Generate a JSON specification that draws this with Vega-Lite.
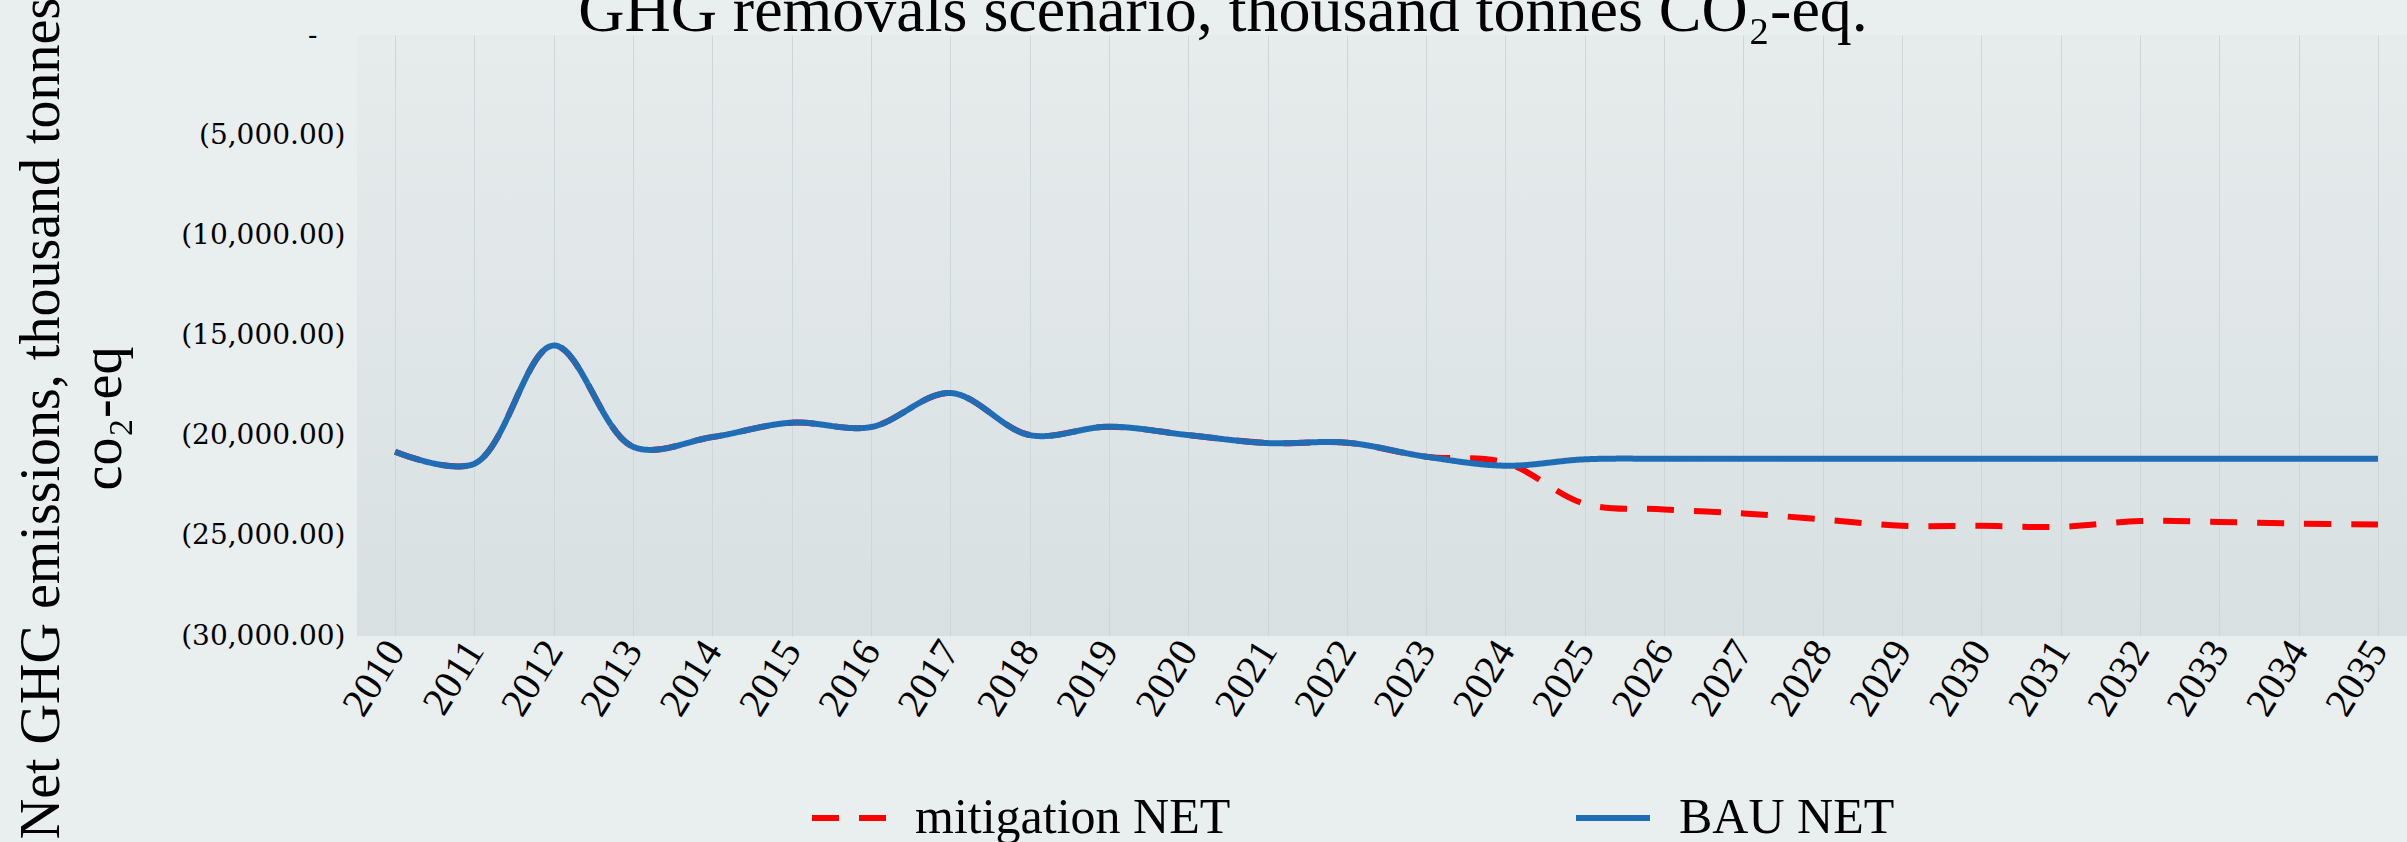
{
  "$schema": "https://vega.github.io/schema/vega-lite/v6.json",
  "autosize": {"type": "none"},
  "width": 2050,
  "height": 601,
  "padding": {"left": 357, "top": 35, "right": 0, "bottom": 206},
  "background": "#e9eeee",
  "title": {
    "text": "GHG removals scenario, thousand tonnes CO₂-eq.",
    "font": "Liberation Serif",
    "fontSize": 64,
    "fontWeight": "normal",
    "color": "#000000",
    "anchor": "middle",
    "frame": "group",
    "dx": -159,
    "baseline": "alphabetic",
    "offset": -98
  },
  "config": {
    "view": {
      "stroke": null,
      "fill": {"gradient": "linear", "x1": 0, "y1": 0, "x2": 0, "y2": 1,
        "stops": [{"offset": 0, "color": "#e6ecec"}, {"offset": 1, "color": "#d9e0e2"}]}
    },
    "legend": {
      "title": null,
      "orient": "none",
      "direction": "horizontal",
      "legendX": 452,
      "legendY": 743,
      "padding": 0,
      "symbolType": "stroke",
      "symbolSize": 5476,
      "symbolStrokeWidth": 6,
      "labelFont": "Liberation Serif",
      "labelFontSize": 50,
      "labelColor": "#000000",
      "labelOffset": 26,
      "labelLimit": 0,
      "columnPadding": 333
    }
  },
  "data": {
    "values": [
      {"year": 2010, "series": "mitigation NET", "value": -20800},
      {"year": 2011, "series": "mitigation NET", "value": -21400},
      {"year": 2012, "series": "mitigation NET", "value": -15500},
      {"year": 2013, "series": "mitigation NET", "value": -20550},
      {"year": 2014, "series": "mitigation NET", "value": -20070},
      {"year": 2015, "series": "mitigation NET", "value": -19350},
      {"year": 2016, "series": "mitigation NET", "value": -19570},
      {"year": 2017, "series": "mitigation NET", "value": -17870},
      {"year": 2018, "series": "mitigation NET", "value": -19970},
      {"year": 2019, "series": "mitigation NET", "value": -19550},
      {"year": 2020, "series": "mitigation NET", "value": -19970},
      {"year": 2021, "series": "mitigation NET", "value": -20370},
      {"year": 2022, "series": "mitigation NET", "value": -20350},
      {"year": 2023, "series": "mitigation NET", "value": -21050},
      {"year": 2024, "series": "mitigation NET", "value": -21350},
      {"year": 2025, "series": "mitigation NET", "value": -23400},
      {"year": 2026, "series": "mitigation NET", "value": -23680},
      {"year": 2027, "series": "mitigation NET", "value": -23880},
      {"year": 2028, "series": "mitigation NET", "value": -24180},
      {"year": 2029, "series": "mitigation NET", "value": -24500},
      {"year": 2030, "series": "mitigation NET", "value": -24500},
      {"year": 2031, "series": "mitigation NET", "value": -24550},
      {"year": 2032, "series": "mitigation NET", "value": -24260},
      {"year": 2033, "series": "mitigation NET", "value": -24310},
      {"year": 2034, "series": "mitigation NET", "value": -24390},
      {"year": 2035, "series": "mitigation NET", "value": -24430},
      {"year": 2010, "series": "BAU NET", "value": -20800},
      {"year": 2011, "series": "BAU NET", "value": -21400},
      {"year": 2012, "series": "BAU NET", "value": -15500},
      {"year": 2013, "series": "BAU NET", "value": -20550},
      {"year": 2014, "series": "BAU NET", "value": -20070},
      {"year": 2015, "series": "BAU NET", "value": -19350},
      {"year": 2016, "series": "BAU NET", "value": -19570},
      {"year": 2017, "series": "BAU NET", "value": -17870},
      {"year": 2018, "series": "BAU NET", "value": -19970},
      {"year": 2019, "series": "BAU NET", "value": -19550},
      {"year": 2020, "series": "BAU NET", "value": -19970},
      {"year": 2021, "series": "BAU NET", "value": -20370},
      {"year": 2022, "series": "BAU NET", "value": -20350},
      {"year": 2023, "series": "BAU NET", "value": -21050},
      {"year": 2024, "series": "BAU NET", "value": -21500},
      {"year": 2025, "series": "BAU NET", "value": -21180},
      {"year": 2026, "series": "BAU NET", "value": -21150},
      {"year": 2027, "series": "BAU NET", "value": -21150},
      {"year": 2028, "series": "BAU NET", "value": -21150},
      {"year": 2029, "series": "BAU NET", "value": -21150},
      {"year": 2030, "series": "BAU NET", "value": -21150},
      {"year": 2031, "series": "BAU NET", "value": -21150},
      {"year": 2032, "series": "BAU NET", "value": -21150},
      {"year": 2033, "series": "BAU NET", "value": -21150},
      {"year": 2034, "series": "BAU NET", "value": -21150},
      {"year": 2035, "series": "BAU NET", "value": -21150}
    ]
  },
  "mark": {"type": "line", "interpolate": "catmull-rom", "strokeWidth": 6, "strokeCap": "butt"},
  "encoding": {
    "x": {
      "field": "year", "type": "quantitative",
      "scale": {"domain": [2009.52, 2035.366], "nice": false, "zero": false},
      "axis": {
        "values": [2010,2011,2012,2013,2014,2015,2016,2017,2018,2019,2020,2021,2022,2023,2024,2025,2026,2027,2028,2029,2030,2031,2032,2033,2034,2035],
        "format": "d",
        "title": null,
        "labelAngle": -58,
        "labelAlign": "right",
        "labelBaseline": "middle",
        "labelFont": "Liberation Serif",
        "labelFontSize": 40,
        "labelColor": "#000000",
        "labelPadding": 8,
        "labelOverlap": false,
        "labelBound": false,
        "labelFlush": false,
        "ticks": false,
        "domain": false,
        "grid": true,
        "gridColor": "#cdd6d8",
        "gridWidth": 1
      }
    },
    "y": {
      "field": "value", "type": "quantitative",
      "scale": {"domain": [-30000, 0], "nice": false, "zero": false},
      "axis": {
        "values": [-30000, -25000, -20000, -15000, -10000, -5000, 0],
        "labelExpr": "datum.value == 0 ? '-' : '(' + format(-datum.value, ',.2f') + ')'",
        "labelFont": "DejaVu Serif",
        "labelFontSize": 28,
        "labelColor": "#000000",
        "labelPadding": {"condition": {"test": "datum.value == 0", "value": 40}, "value": 12},
        "ticks": false,
        "domain": false,
        "grid": false,
        "title": ["Net GHG emissions, thousand tonnes", "co₂-eq"],
        "titleFont": "Liberation Serif",
        "titleFontSize": 56,
        "titleFontWeight": "normal",
        "titleColor": "#000000",
        "titleLineHeight": 62,
        "titlePadding": 48,
        "titleY": 383
      }
    },
    "color": {
      "field": "series", "type": "nominal",
      "scale": {"domain": ["mitigation NET", "BAU NET"], "range": ["#ff0000", "#1f6db5"]}
    },
    "strokeDash": {
      "field": "series", "type": "nominal",
      "scale": {"domain": ["mitigation NET", "BAU NET"], "range": [[27, 20], [1, 0]]}
    },
    "order": {"field": "series", "sort": "descending"}
  }
}
